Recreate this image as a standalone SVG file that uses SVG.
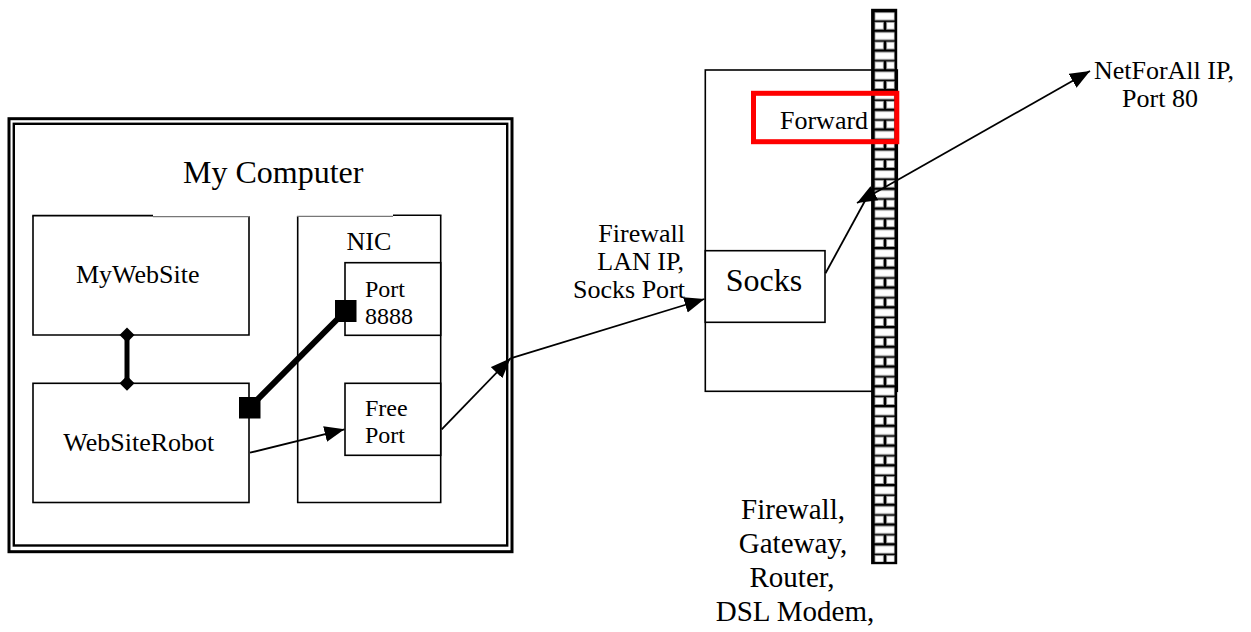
<svg xmlns="http://www.w3.org/2000/svg" width="1251" height="632" viewBox="0 0 1251 632">
<style>
  text { font-family: "Liberation Serif", "Times New Roman", serif; fill: #000; }
  .box { fill: #fff; stroke: #000; stroke-width: 1.6; }
  .ln { fill: none; stroke: #000; stroke-width: 1.8; }
  .thick { fill: none; stroke: #000; stroke-width: 6; }
  .t26 { font-size: 26px; }
  .t24 { font-size: 24px; }
  .t32 { font-size: 32px; }
  .t29 { font-size: 29px; }
</style>
<defs>
  <marker id="arr" markerUnits="userSpaceOnUse" markerWidth="22" markerHeight="18" refX="20" refY="8" orient="auto">
    <path d="M0,0 L20,8 L0,16 z" fill="#000"/>
  </marker>
  <marker id="arrS" markerUnits="userSpaceOnUse" markerWidth="22" markerHeight="18" refX="20" refY="8" orient="auto-start-reverse">
    <path d="M0,0 L20,8 L0,16 z" fill="#000"/>
  </marker>
  <marker id="dia" markerUnits="userSpaceOnUse" markerWidth="16" markerHeight="16" refX="8" refY="8" orient="auto">
    <path d="M8,0.5 L15.5,8 L8,15.5 L0.5,8 z" fill="#000"/>
  </marker>
  <marker id="sq" markerUnits="userSpaceOnUse" markerWidth="24" markerHeight="24" refX="11" refY="11">
    <rect x="0" y="0" width="22" height="22" fill="#000"/>
  </marker>
  <pattern id="brick" patternUnits="userSpaceOnUse" x="872" y="10" width="24" height="19.75">
    <rect x="0" y="0" width="24" height="19.75" fill="#000"/>
    <rect x="3" y="2.7" width="19.3" height="7.3" fill="#fff" stroke="#999" stroke-width="0.8"/>
    <rect x="3" y="12.3" width="8.3" height="7.1" fill="#fff" stroke="#999" stroke-width="0.8"/>
    <rect x="14.7" y="12.3" width="7.6" height="7.1" fill="#fff" stroke="#999" stroke-width="0.8"/>
  </pattern>
</defs>

<g id="my-computer">
  <rect x="9" y="118.7" width="503" height="433" fill="#fff" stroke="#000" stroke-width="3"/>
  <rect x="13.8" y="123.8" width="493.4" height="421.7" fill="none" stroke="#000" stroke-width="2.4"/>
  <text class="t32" x="183" y="183">My Computer</text>
</g>

<g id="mywebsite">
  <path d="M33,216 L33,335 L249,335 L249,216" class="box"/>
  <line x1="32.2" y1="215.6" x2="153" y2="215.6" stroke="#000" stroke-width="1.6"/>
  <line x1="153" y1="216.6" x2="249.8" y2="216.6" stroke="#777" stroke-width="1.2"/>
  <text class="t26" x="76" y="283">MyWebSite</text>
</g>

<g id="websiterobot">
  <rect x="33" y="383.3" width="216" height="119.2" class="box"/>
  <text class="t26" x="63.3" y="450.7">WebSiteRobot</text>
</g>

<g id="nic">
  <path d="M297.7,216 L297.7,502.5 L440.7,502.5 L440.7,215.7" class="box"/>
  <line x1="297" y1="216.3" x2="393" y2="216.3" stroke="#777" stroke-width="1.2"/>
  <line x1="393" y1="215.2" x2="441.5" y2="215.2" stroke="#000" stroke-width="1.6"/>
  <text class="t26" x="346.5" y="250">NIC</text>
</g>

<g id="port8888">
  <rect x="345" y="262.7" width="95.7" height="72.6" class="box"/>
  <text class="t24" x="365" y="296.7">Port</text>
  <text class="t24" x="365" y="324">8888</text>
</g>

<g id="freeport">
  <rect x="345" y="383.3" width="95.7" height="72" class="box"/>
  <text class="t24" x="365" y="416">Free</text>
  <text class="t24" x="365" y="443.3">Port</text>
</g>

<g id="firewall-box">
  <rect x="705.3" y="70" width="192" height="321.3" class="box"/>
</g>

<g id="socks">
  <rect x="705.3" y="250.7" width="119.7" height="71.6" class="box"/>
  <text class="t32" x="725.7" y="291">Socks</text>
</g>

<g id="wall">
  <rect x="872.3" y="10" width="23.7" height="553" fill="url(#brick)" stroke="#000" stroke-width="2.4"/>
</g>

<g id="forward">
  <rect x="753.5" y="93.3" width="143.3" height="48.4" fill="none" stroke="#ff0000" stroke-width="5"/>
  <text class="t26" x="780" y="129.3">Forward</text>
</g>

<g id="labels">
  <text class="t26" x="685" y="242" text-anchor="end">Firewall</text>
  <text class="t26" x="684" y="270" text-anchor="end">LAN IP,</text>
  <text class="t26" x="685" y="298" text-anchor="end">Socks Port</text>
  <text class="t26" x="1164" y="78.5" text-anchor="middle">NetForAll IP,</text>
  <text class="t26" x="1160" y="106.5" text-anchor="middle">Port 80</text>
  <text class="t29" x="793" y="519" text-anchor="middle">Firewall,</text>
  <text class="t29" x="793" y="553" text-anchor="middle">Gateway,</text>
  <text class="t29" x="792" y="587" text-anchor="middle">Router,</text>
  <text class="t29" x="795" y="621" text-anchor="middle">DSL Modem,</text>
</g>

<g id="connectors">
  <line x1="127" y1="335" x2="127" y2="383.3" stroke="#000" stroke-width="5" marker-start="url(#dia)" marker-end="url(#dia)"/>
  <line x1="249.5" y1="407.5" x2="345.5" y2="311" class="thick" marker-start="url(#sq)" marker-end="url(#sq)"/>
  <line x1="250" y1="452.7" x2="344.5" y2="429.3" class="ln" marker-end="url(#arr)"/>
  <line x1="441.7" y1="429.3" x2="510.5" y2="358.3" class="ln" marker-end="url(#arr)"/>
  <line x1="510.5" y1="358.3" x2="704.5" y2="299" class="ln" marker-end="url(#arr)"/>
  <line x1="825.5" y1="273.3" x2="866" y2="199" class="ln"/>
  <line x1="857" y1="203" x2="1090" y2="71" class="ln" marker-start="url(#arrS)" marker-end="url(#arr)"/>
</g>
</svg>
